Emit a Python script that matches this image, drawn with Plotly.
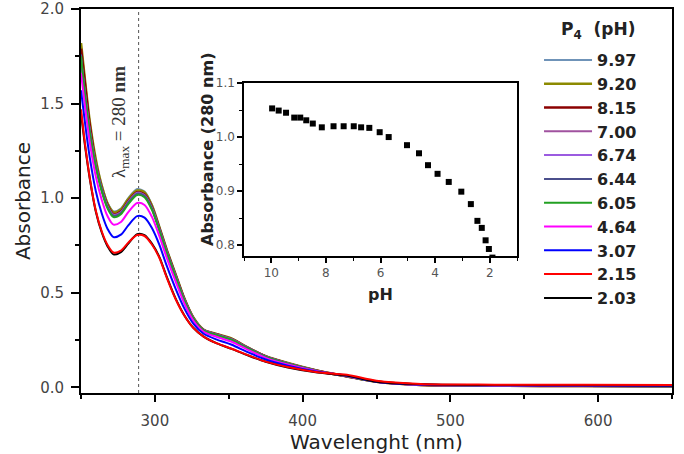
import plotly.graph_objects as go

# ---------------- data ----------------
wavelength = [250, 253, 256, 260, 264, 268, 272, 277, 282, 288, 293, 298, 303, 308, 314,
              320, 326, 333, 342, 352, 362, 375, 390, 410, 430, 450, 480, 530, 590, 650]

ph_labels = ["9.97", "9.20", "8.15", "7.00", "6.74", "6.44", "6.05", "4.64", "3.07", "2.15", "2.03"]

abs_997 = [1.76, 1.56, 1.38, 1.20, 1.07, 0.975, 0.93, 0.945, 1.00, 1.048, 1.035, 0.965, 0.85, 0.73, 0.60,
           0.47, 0.37, 0.305, 0.282, 0.258, 0.215, 0.165, 0.128, 0.088, 0.058, 0.03, 0.013, 0.009, 0.007, 0.006]
abs_920 = [1.82, 1.60, 1.40, 1.205, 1.065, 0.97, 0.925, 0.94, 0.995, 1.04, 1.03, 0.96, 0.847, 0.727, 0.597,
           0.468, 0.369, 0.304, 0.281, 0.257, 0.214, 0.164, 0.128, 0.088, 0.058, 0.03, 0.013, 0.009, 0.007, 0.006]
abs_815 = [1.79, 1.58, 1.38, 1.18, 1.05, 0.96, 0.914, 0.929, 0.983, 1.031, 1.019, 0.951, 0.839, 0.72, 0.591,
           0.464, 0.366, 0.302, 0.279, 0.254, 0.212, 0.163, 0.126, 0.087, 0.058, 0.03, 0.013, 0.009, 0.007, 0.006]
abs_700 = [1.74, 1.536, 1.358, 1.178, 1.05, 0.957, 0.912, 0.927, 0.981, 1.029, 1.017, 0.949, 0.837, 0.718, 0.59,
           0.463, 0.366, 0.302, 0.278, 0.254, 0.212, 0.163, 0.126, 0.087, 0.058, 0.03, 0.013, 0.009, 0.007, 0.006]
abs_674 = [1.73, 1.533, 1.355, 1.176, 1.048, 0.954, 0.91, 0.924, 0.978, 1.027, 1.014, 0.947, 0.836, 0.717, 0.588,
           0.462, 0.365, 0.302, 0.278, 0.253, 0.211, 0.162, 0.126, 0.087, 0.058, 0.03, 0.013, 0.009, 0.007, 0.006]
abs_644 = [1.76, 1.53, 1.352, 1.173, 1.045, 0.952, 0.907, 0.922, 0.976, 1.024, 1.012, 0.945, 0.834, 0.716, 0.587,
           0.461, 0.365, 0.301, 0.277, 0.252, 0.211, 0.162, 0.126, 0.087, 0.058, 0.03, 0.013, 0.009, 0.007, 0.006]
abs_605 = [1.75, 1.521, 1.344, 1.165, 1.037, 0.945, 0.90, 0.915, 0.969, 1.017, 1.005, 0.938, 0.829, 0.711, 0.583,
           0.458, 0.363, 0.30, 0.275, 0.251, 0.209, 0.161, 0.125, 0.087, 0.058, 0.03, 0.013, 0.009, 0.007, 0.006]
abs_464 = [1.66, 1.467, 1.293, 1.116, 0.992, 0.904, 0.86, 0.874, 0.926, 0.974, 0.964, 0.901, 0.80, 0.685, 0.56,
           0.442, 0.353, 0.294, 0.266, 0.241, 0.202, 0.156, 0.121, 0.085, 0.06, 0.03, 0.014, 0.01, 0.008, 0.007]
abs_307 = [1.57, 1.38, 1.212, 1.038, 0.92, 0.837, 0.794, 0.807, 0.856, 0.905, 0.897, 0.842, 0.754, 0.643, 0.522,
           0.416, 0.337, 0.283, 0.252, 0.225, 0.189, 0.147, 0.114, 0.082, 0.062, 0.03, 0.015, 0.011, 0.009, 0.008]
abs_215 = [1.47, 1.27, 1.105, 0.935, 0.825, 0.752, 0.713, 0.723, 0.765, 0.805, 0.80, 0.755, 0.685, 0.58, 0.467,
           0.378, 0.314, 0.268, 0.232, 0.204, 0.173, 0.136, 0.107, 0.08, 0.066, 0.035, 0.018, 0.014, 0.013, 0.012]
abs_203 = [1.45, 1.26, 1.10, 0.93, 0.82, 0.745, 0.703, 0.715, 0.76, 0.81, 0.805, 0.76, 0.69, 0.585, 0.47,
           0.38, 0.315, 0.268, 0.232, 0.203, 0.172, 0.135, 0.105, 0.078, 0.062, 0.03, 0.016, 0.012, 0.011, 0.010]

series = [abs_997, abs_920, abs_815, abs_700, abs_674, abs_644, abs_605, abs_464, abs_307, abs_215, abs_203]
colors = ["#6f93b8", "#8c8a00", "#8b0000", "#a0529f", "#9b5be0", "#4b4f8c",
          "#22a022", "#ff00ff", "#0000ff", "#ff0000", "#000000"]
widths = [2, 2.6, 2.6, 2, 2, 2, 2, 2, 2, 2, 2]

# inset: absorbance at 280 nm vs pH
inset_ph = [9.97, 9.73, 9.46, 9.16, 8.94, 8.72, 8.48, 8.15, 7.72, 7.35, 6.98, 6.71, 6.41,
            6.03, 5.70, 5.03, 4.59, 4.26, 3.91, 3.50, 3.04, 2.69, 2.45, 2.29, 2.15, 2.03, 1.90]
inset_abs = [1.053, 1.049, 1.045, 1.036, 1.036, 1.031, 1.025, 1.018, 1.020, 1.020, 1.020, 1.018, 1.017,
             1.009, 1.000, 0.985, 0.970, 0.948, 0.932, 0.917, 0.899, 0.876, 0.845, 0.832, 0.809, 0.793, 0.777]

lambda_line = 289

FONT = "DejaVu Sans"
PLOT_TOP, PLOT_BOTTOM = 9, 393          # pixel rows of the main plot frame
PLOT_H = PLOT_BOTTOM - PLOT_TOP


def py(row):
    """paper y of a pixel row"""
    return (PLOT_BOTTOM - row) / PLOT_H


def px(col):
    """paper x of a pixel column"""
    return (col - 81) / 591


fig = go.Figure()

# draw order: black before red so the red stays visible on top
order = [0, 1, 2, 3, 4, 5, 6, 7, 8, 10, 9]
for i in order:
    fig.add_trace(go.Scatter(
        x=wavelength, y=series[i], mode="lines", name=ph_labels[i],
        line=dict(color=colors[i], width=widths[i], shape="spline", smoothing=0.8),
        legendrank=i + 1, xaxis="x", yaxis="y"))

fig.add_trace(go.Scatter(
    x=inset_ph, y=inset_abs, mode="markers", showlegend=False,
    marker=dict(symbol="square", size=6, color="black"),
    xaxis="x2", yaxis="y2", cliponaxis=True))

# dotted vertical line at lambda max
fig.add_shape(type="line", xref="x", yref="paper", x0=lambda_line, x1=lambda_line, y0=0, y1=1,
              line=dict(color="#555555", width=1, dash="dot"), layer="below")

fig.add_annotation(
    x=px(120), y=py(122), xref="paper", yref="paper", xanchor="center", yanchor="middle",
    text="λ<sub>max</sub> = 280 <b>nm</b>", showarrow=False, textangle=-90,
    font=dict(family="Liberation Serif", size=19, color="#333333"))

# inset y-axis title (sits above the inset's centre, as in the source)
fig.add_annotation(
    x=px(207), y=py(150), xref="paper", yref="paper",
    xanchor="center", yanchor="middle",
    text="<b>Absorbance (280 nm)</b>", showarrow=False, textangle=-90,
    font=dict(family=FONT, size=16, color="#222222"))

# legend heading
fig.add_annotation(
    x=px(598), y=py(30), xref="paper", yref="paper",
    xanchor="center", yanchor="middle",
    text="<b>P<sub>4</sub>  (pH)</b>", showarrow=False,
    font=dict(family=FONT, size=17, color="#222222"))

axis_common = dict(showline=True, linecolor="black", mirror=True, showgrid=False,
                   zeroline=False, automargin=False, ticklabeloverflow="allow")

fig.update_layout(
    width=684, height=454,
    margin=dict(l=81, r=12, t=PLOT_TOP, b=454 - PLOT_BOTTOM),
    paper_bgcolor="white", plot_bgcolor="white",
    font=dict(family=FONT, color="#333333"),
    xaxis=dict(**axis_common, linewidth=2, range=[250, 650], dtick=100, tick0=0,
               ticks="outside", ticklen=7, tickwidth=2, tickcolor="black",
               tickfont=dict(size=15, color="#444444"), ticklabelstandoff=6,
               minor=dict(dtick=50, ticks="outside", ticklen=4, tickwidth=2, tickcolor="black"),
               title=dict(text="Wavelenght (nm)", font=dict(size=20, color="#222222"), standoff=10)),
    yaxis=dict(**axis_common, linewidth=2, range=[-0.03, 2.0], dtick=0.5, tick0=0, tickformat=".1f",
               ticks="outside", ticklen=8, tickwidth=2, tickcolor="black",
               tickfont=dict(size=15, color="#444444"), ticklabelstandoff=4,
               minor=dict(dtick=0.25, ticks="outside", ticklen=4, tickwidth=2, tickcolor="black"),
               title=dict(text="Absorbance", font=dict(size=20, color="#222222"), standoff=4)),
    xaxis2=dict(**axis_common, linewidth=1.5, domain=[px(244), px(517)], anchor="y2",
                range=[11, 1], dtick=2, tick0=0,
                ticks="outside", ticklen=5, tickwidth=1.5, tickcolor="black",
                tickfont=dict(size=12, color="#555555"),
                minor=dict(dtick=1, ticks="outside", ticklen=3, tickwidth=1, tickcolor="black"),
                title=dict(text="<b>pH</b>", font=dict(size=16, color="#222222"), standoff=10)),
    xaxis3=dict(overlaying="x2", anchor="y2", side="top", range=[11, 1], dtick=1, tick0=0,
                showline=False, showgrid=False, zeroline=False, showticklabels=False,
                ticks="inside", ticklen=4, tickwidth=1, tickcolor="black", automargin=False),
    yaxis2=dict(**axis_common, linewidth=1.5, domain=[py(256), py(83)], anchor="x2",
                range=[0.78, 1.1], dtick=0.1, tick0=0, tickformat=".1f",
                ticks="outside", ticklen=5, tickwidth=1.5, tickcolor="black",
                tickfont=dict(size=12, color="#555555"),
                minor=dict(dtick=0.05, ticks="outside", ticklen=3, tickwidth=1, tickcolor="black")),
    legend=dict(x=0.775, y=py(43), xanchor="left", yanchor="top",
                bgcolor="rgba(0,0,0,0)", borderwidth=0, tracegroupgap=0,
                itemwidth=48,
                font=dict(family=FONT, size=16, color="#222222", weight="bold")),
    showlegend=True,
)

fig.write_html("out.html")
